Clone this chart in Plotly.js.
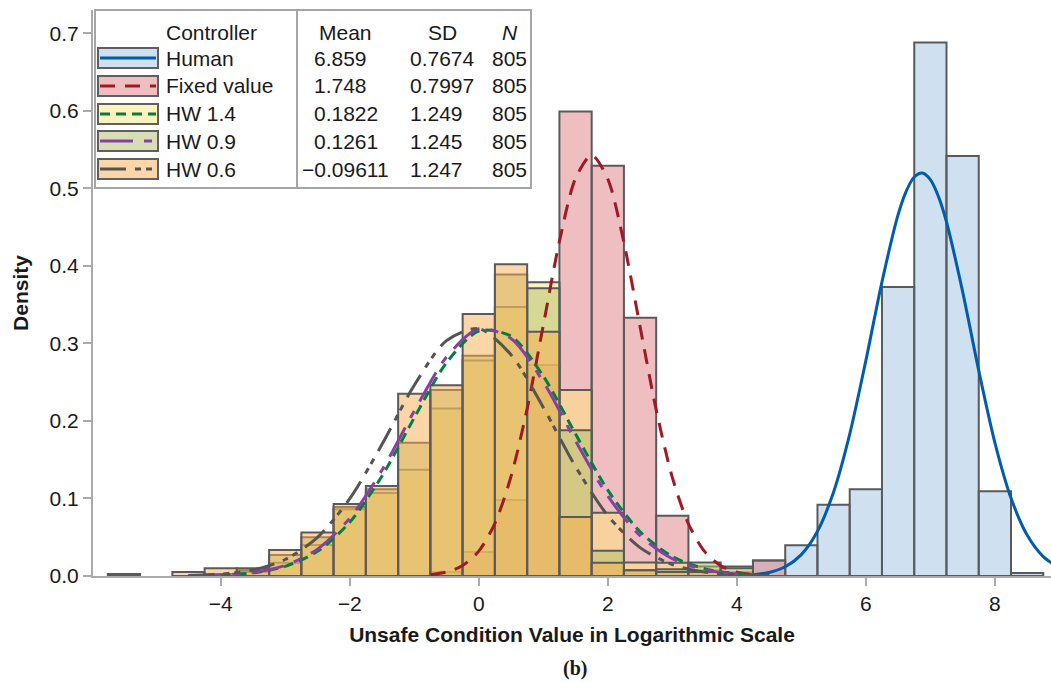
<!DOCTYPE html>
<html>
<head>
<meta charset="utf-8">
<script src="https://cdn.plot.ly/plotly-3.0.1.min.js"></script>
<style>
html,body{margin:0;padding:0;background:#ffffff;}
#chart{width:1051px;height:682px;}
</style>
</head>
<body>
<div id="chart"></div>
<script>
// ---------- data ----------
const binCenters = [-5.5,-5,-4.5,-4,-3.5,-3,-2.5,-2,-1.5,-1,-0.5,0,0.5,1,1.5,2,2.5,3,3.5,4,4.5,5,5.5,6,6.5,7,7.5,8,8.5];

const humanDensity = [null,null,null,null,null,null,null,null,null,null,null,null,null,null,null,null,null,null,null,null,0.0199,0.0397,0.0919,0.1118,0.3727,0.6882,0.5416,0.1093,0.004];
const fixedDensity = [null,null,null,null,null,null,null,null,null,null,0.005,0.031,0.098,0.272,0.599,0.529,0.333,0.0778,0.0075,0.005,0.0199,null,null,null,null,null,null,null,null];
const hw14Density  = [null,null,null,null,0.005,0.017,0.040,0.086,0.107,0.137,0.216,0.278,0.347,0.379,0.240,0.0816,0.0174,0.017,0.0124,0.0124,null,null,null,null,null,null,null,null,null];
const hw09Density  = [null,null,null,0.0025,0.0075,0.027,0.050,0.089,0.112,0.172,0.240,0.284,0.389,0.371,0.188,0.0326,0.0075,0.0086,0.0174,0.0099,null,null,null,null,null,null,null,null,null];
const hw06Density  = [0.0025,null,0.005,0.0099,0.0099,0.0335,0.056,0.093,0.116,0.235,0.246,0.338,0.402,0.315,0.076,0.017,0.0075,0.005,0.005,0.0025,null,null,null,null,null,null,null,null,null];

// fitted density curves
const humanCurveX = [4.25,4.5,4.75,5,5.25,5.5,5.75,6,6.25,6.5,6.625,6.75,6.875,7,7.125,7.25,7.5,7.75,8,8.25,8.5,8.75,9];
const humanCurveY = [0.0016,0.0046,0.0119,0.0276,0.0577,0.1084,0.1830,0.2778,0.3794,0.4660,0.4962,0.5146,0.5197,0.5112,0.4895,0.4566,0.3668,0.2649,0.1721,0.1006,0.0528,0.0250,0.0106];
const fixedCurveX = [-0.75,-0.5,-0.25,0,0.25,0.5,0.75,1,1.25,1.5,1.75,2,2.25,2.5,2.75,3,3.25,3.5,3.75,4,4.25];
const fixedCurveY = [0.0017,0.0051,0.0135,0.0321,0.0680,0.1284,0.2159,0.3234,0.4315,0.5128,0.5428,0.5118,0.4299,0.3216,0.2143,0.1272,0.0673,0.0317,0.0133,0.0050,0.0017];
const hwCurveX = [-4.5,-4,-3.5,-3,-2.5,-2,-1.5,-1,-0.5,0,0.5,1,1.5,2,2.5,3,3.5,4,4.5];
const hw14CurveY = [0.0003,0.0012,0.0041,0.0124,0.0318,0.0694,0.1290,0.2041,0.2752,0.3160,0.3092,0.2578,0.1831,0.1108,0.0571,0.0251,0.0094,0.0030,0.0008];
const hw09CurveY = [0.0003,0.0013,0.0046,0.0137,0.0346,0.0746,0.1366,0.2128,0.2824,0.3188,0.3063,0.2505,0.1743,0.1032,0.0520,0.0223,0.0082,0.0025,0.0007];
const hw06CurveY = [0.0006,0.0024,0.0077,0.0213,0.0499,0.0997,0.1698,0.2460,0.3036,0.3190,0.2854,0.2174,0.1410,0.0779,0.0366,0.0147,0.0050,0.0015,0.0004];

// legend table
const controllers = ['Human','Fixed value','HW 1.4','HW 0.9','HW 0.6'];
const meanLabels  = ['6.859','1.748','0.1822','0.1261','\u22120.09611'];
const sdLabels    = ['0.7674','0.7997','1.249','1.245','1.247'];
const nLabels     = ['805','805','805','805','805'];

// ---------- styles ----------
const FONT = 'Liberation Sans, Arial, Helvetica, sans-serif';
const barFill  = ['rgba(159,193,225,0.5)','rgba(221,125,129,0.5)','rgba(255,229,125,0.5)','rgba(175,189,105,0.5)','rgba(249,173,77,0.5)'];
const swatchFill = ['rgb(207,224,240)','rgb(238,190,192)','rgb(255,242,190)','rgb(215,222,180)','rgb(252,214,166)'];
const lineColor = ['rgb(0,92,172)','rgb(158,26,36)','rgb(0,128,62)','rgb(138,62,165)','rgb(84,84,84)'];
const lineDash  = ['solid','15px,10px','10px,6px','33px,11px,8px,11px','26px,9px,6px,5px,6px,9px'];
const outline = 'rgb(90,90,90)';

const barSeries = [humanDensity, fixedDensity, hw14Density, hw09Density, hw06Density];
const curves = [[humanCurveX, humanCurveY],[fixedCurveX, fixedCurveY],[hwCurveX, hw14CurveY],[hwCurveX, hw09CurveY],[hwCurveX, hw06CurveY]];

const traces = [];
barSeries.forEach((ys, i) => {
  traces.push({
    type: 'bar', x: binCenters, y: ys, width: 0.5, name: controllers[i],
    marker: {color: barFill[i], line: {color: outline, width: 2}},
    showlegend: false, hoverinfo: 'skip'
  });
});
curves.forEach((c, i) => {
  traces.push({
    type: 'scatter', mode: 'lines', x: c[0], y: c[1], name: controllers[i] + ' curve',
    line: {color: lineColor[i], width: 3, dash: lineDash[i], shape: 'spline', smoothing: 0.8},
    showlegend: false, hoverinfo: 'skip'
  });
});

// plot area in pixels: left 93, right 1051, top 10, bottom 576
const L = 93, R = 1051, T = 10, B = 576;
const px = v => (v - L) / (R - L);
const py = v => (B - v) / (B - T);

const shapes = [];
const annotations = [];
// legend frame
shapes.push({type:'rect', xref:'paper', yref:'paper', x0:px(95), x1:px(531), y0:py(188), y1:py(10),
  fillcolor:'#ffffff', line:{color:'rgb(165,165,165)', width:2}});
shapes.push({type:'line', xref:'paper', yref:'paper', x0:px(297), x1:px(297), y0:py(188), y1:py(10),
  line:{color:'rgb(165,165,165)', width:2}});

const headerY = 32;
const rowY = [58, 86, 114, 141, 169];
const txt = (text, x, y, anchor) => ({text: text, xref:'paper', yref:'paper', x: px(x), y: py(y),
  xanchor: anchor, yanchor:'middle', showarrow:false, font:{family:FONT, size:21, color:'#1a1a1a'}});

annotations.push(txt('Controller', 164, headerY, 'left'));
annotations.push(txt('Mean', 345, headerY, 'center'));
annotations.push(txt('SD', 442, headerY, 'center'));
annotations.push(txt('<i>N</i>', 510, headerY, 'center'));

controllers.forEach((name, i) => {
  const y = rowY[i];
  shapes.push({type:'rect', xref:'paper', yref:'paper', x0:px(98), x1:px(158), y0:py(y+10), y1:py(y-10),
    fillcolor: swatchFill[i], line:{color:'rgb(95,95,95)', width:2}});
  shapes.push({type:'line', xref:'paper', yref:'paper', x0:px(100), x1:px(156), y0:py(y), y1:py(y),
    line:{color: lineColor[i], width:3, dash: lineDash[i]}});
  annotations.push(txt(name, 164, y, 'left'));
  const m = meanLabels[i];
  annotations.push(txt(m, m.charAt(0) === '\u2212' ? 300 : 312, y, 'left'));
  annotations.push(txt(sdLabels[i], 408, y, 'left'));
  annotations.push(txt(nLabels[i], 490, y, 'left'));
});

// caption
annotations.push({text:'<b>(b)</b>', xref:'paper', yref:'paper', x: px(575), y: py(668), xanchor:'center', yanchor:'middle',
  showarrow:false, font:{family:'Liberation Serif, Times New Roman, serif', size:20, color:'#1a1a1a'}});

const axisCommon = {
  showgrid:false, zeroline:false, showline:true, linecolor:'rgb(170,170,170)', linewidth:2,
  ticks:'outside', ticklen:8, tickwidth:2, tickcolor:'rgb(170,170,170)',
  tickfont:{family:FONT, size:21, color:'#1a1a1a'}
};

const layout = {
  width:1051, height:682,
  margin:{l:L, r:1051-R, t:T, b:682-B},
  paper_bgcolor:'#ffffff', plot_bgcolor:'#ffffff',
  barmode:'overlay', bargap:0,
  showlegend:false,
  xaxis: Object.assign({}, axisCommon, {
    range:[-5.98, 8.87], tickvals:[-4,-2,0,2,4,6,8], ticklabelstandoff:0,
    title:{text:'Unsafe Condition Value in Logarithmic Scale', standoff:13,
      font:{family:FONT, size:21, color:'#1a1a1a', weight:'bold'}}
  }),
  yaxis: Object.assign({}, axisCommon, {
    range:[0, 0.73], tickvals:[0,0.1,0.2,0.3,0.4,0.5,0.6,0.7], tickformat:'.1f', ticklabelstandoff:0,
    title:{text:'Density', standoff:15, font:{family:FONT, size:21, color:'#1a1a1a', weight:'bold'}}
  }),
  shapes: shapes,
  annotations: annotations
};

Plotly.newPlot('chart', traces, layout, {displayModeBar:false, staticPlot:true});
</script>
</body>
</html>
